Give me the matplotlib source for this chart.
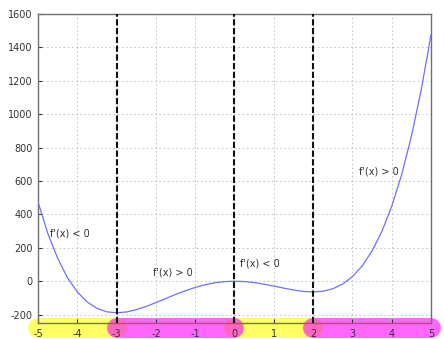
import matplotlib
matplotlib.use("Agg")
import matplotlib.pyplot as plt

plt.rcParams['axes.unicode_minus'] = False

# curve samples
x_vals = [-5.0, -4.75, -4.5, -4.25, -4.0, -3.75, -3.5, -3.25, -3.0, -2.75, -2.5,
          -2.25, -2.0, -1.75, -1.5, -1.25, -1.0, -0.75, -0.5, -0.25, 0.0,
          0.25, 0.5, 0.75, 1.0, 1.25, 1.5, 1.75, 2.0, 2.25, 2.5,
          2.75, 3.0, 3.25, 3.5, 3.75, 4.0, 4.25, 4.5, 4.75, 5.0]
y_vals = [475, 286, 137, 21, -64, -124, -162, -183, -189, -184, -170,
          -151, -128, -104, -79, -57, -37, -21, -9, -2, 0,
          -2, -8, -18, -29, -41, -52, -61, -64, -60, -45,
          -17, 27, 92, 181, 298, 448, 636, 866, 1144, 1475]

critical_x = [-3, 0, 2]
band_yellow = [(-5, -3), (0, 2)]
band_magenta = [(-3, 0), (2, 5)]
labels = ["f'(x) < 0", "f'(x) > 0", "f'(x) < 0", "f'(x) > 0"]
label_x = [-4.69, -2.07, 0.14, 3.17]
label_y = [288, 55, 109, 658]
xticks = list(range(-5, 6))
yticks = list(range(-200, 1601, 200))

fig = plt.figure(figsize=(4.44, 3.39), dpi=100)
ax = fig.add_axes([0.0856, 0.0472, 0.9707 - 0.0856, 0.9587 - 0.0472])
ax.set_xlim(-5, 5)
ax.set_ylim(-250, 1600)
ax.set_xticks(xticks)
ax.set_yticks(yticks)
ax.grid(True, color='#bdbdbd', linewidth=0.6, linestyle=(0, (2, 3)))
ax.tick_params(direction='in', length=3, labelsize=7, colors='#333333', pad=4)
for s in ax.spines.values():
    s.set_color('#707070')
    s.set_linewidth(1.0)

ax.plot(x_vals, y_vals, color='#7070ff', linewidth=0.9, zorder=3)
for cx in critical_x:
    ax.axvline(cx, color='#111111', linewidth=1.5, linestyle=(0, (3, 1.2)), zorder=4)

for xt, yt, t in zip(label_x, label_y, labels):
    ax.text(xt, yt, t, fontsize=7, color='#333333', va='center', ha='left')

band_y = -280
for a, b in band_yellow:
    ax.plot([a, b], [band_y, band_y], color='yellow', alpha=0.6, linewidth=14.4,
            solid_capstyle='round', clip_on=False, zorder=1)
for a, b in band_magenta:
    ax.plot([a, b], [band_y, band_y], color='magenta', alpha=0.6, linewidth=14.4,
            solid_capstyle='round', clip_on=False, zorder=1)

fig.savefig('out.png', dpi=100)
